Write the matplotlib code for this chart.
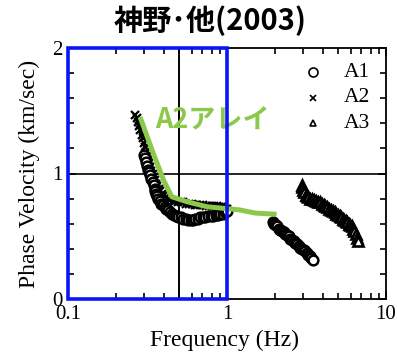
import matplotlib
matplotlib.use("Agg")
import matplotlib.pyplot as plt
from matplotlib.ticker import FixedLocator, NullFormatter, FixedFormatter
from matplotlib.patches import Rectangle

# Dispersion curves (frequency in Hz, phase velocity in km/s)
a1_freq = [0.300, 0.305, 0.310, 0.315, 0.320, 0.325, 0.330, 0.335, 0.340,
           0.345, 0.350, 0.355, 0.360, 0.365, 0.370, 0.378, 0.386, 0.395,
           0.405, 0.415, 0.425, 0.437, 0.450, 0.465, 0.480, 0.495, 0.510,
           0.530, 0.550, 0.570, 0.590, 0.610, 0.630, 0.655, 0.680, 0.705,
           0.730, 0.760, 0.790, 0.820, 0.850, 0.880, 0.910, 0.940, 0.970, 1.000,
           1.94, 1.98, 2.02, 2.07, 2.12, 2.17, 2.22, 2.27, 2.32, 2.38, 2.44,
           2.50, 2.56, 2.62, 2.68, 2.75, 2.82, 2.89, 2.96, 3.03, 3.10, 3.17,
           3.24, 3.31, 3.38, 3.47]
a1_vel = [1.15, 1.12, 1.09, 1.06, 1.03, 1.01, 0.99, 0.96, 0.93, 0.91, 0.88,
          0.86, 0.84, 0.82, 0.80, 0.78, 0.76, 0.75, 0.73, 0.72, 0.71, 0.69,
          0.68, 0.67, 0.66, 0.65, 0.65, 0.64, 0.64, 0.63, 0.63, 0.63, 0.64,
          0.64, 0.65, 0.65, 0.65, 0.66, 0.66, 0.66, 0.67, 0.67, 0.68, 0.68,
          0.69, 0.70,
          0.61, 0.60, 0.59, 0.58, 0.56, 0.55, 0.54, 0.53, 0.52, 0.51, 0.50,
          0.48, 0.47, 0.46, 0.45, 0.44, 0.42, 0.41, 0.40, 0.39, 0.38, 0.37,
          0.35, 0.34, 0.33, 0.31]

a2_freq = [0.265, 0.270, 0.275, 0.280, 0.285, 0.290, 0.295, 0.300, 0.305,
           0.310, 0.315, 0.320, 0.325, 0.330, 0.335, 0.340, 0.345, 0.350,
           0.357, 0.364, 0.372, 0.380, 0.390, 0.400, 0.412, 0.425, 0.440,
           0.455, 0.470, 0.490, 0.510, 0.530, 0.550, 0.575, 0.600, 0.625,
           0.650, 0.680, 0.710, 0.740, 0.770, 0.800, 0.830, 0.860, 0.890,
           0.920, 0.950, 0.980, 1.000]
a2_vel = [1.47, 1.44, 1.41, 1.38, 1.35, 1.31, 1.28, 1.24, 1.21, 1.17, 1.14,
          1.11, 1.08, 1.05, 1.02, 1.00, 0.97, 0.95, 0.92, 0.90, 0.88, 0.86,
          0.84, 0.83, 0.81, 0.80, 0.79, 0.78, 0.78, 0.77, 0.77, 0.77, 0.76,
          0.76, 0.76, 0.75, 0.75, 0.75, 0.75, 0.74, 0.74, 0.74, 0.74, 0.74,
          0.73, 0.73, 0.73, 0.72, 0.72]

a3_freq = [2.95, 2.98, 3.02, 3.07, 3.12, 3.18, 3.25, 3.33, 3.42, 3.52, 3.62,
           3.72, 3.83, 3.94, 4.05, 4.16, 4.28, 4.40, 4.52, 4.64, 4.76, 4.88,
           5.00, 5.12, 5.24, 5.36, 5.48, 5.60, 5.72, 5.84, 5.96, 6.08, 6.20,
           6.32, 6.44, 6.56, 6.67]
a3_vel = [0.91, 0.89, 0.87, 0.85, 0.83, 0.82, 0.81, 0.80, 0.80, 0.79, 0.78,
          0.77, 0.77, 0.76, 0.75, 0.74, 0.73, 0.72, 0.71, 0.70, 0.69, 0.68,
          0.67, 0.66, 0.65, 0.64, 0.63, 0.62, 0.61, 0.60, 0.59, 0.58, 0.56,
          0.54, 0.52, 0.49, 0.46]

# Picked A2-array curve
pick_freq = [0.284, 0.344, 0.398, 0.449, 0.56, 0.75, 1.00, 1.20, 1.50, 2.05]
pick_vel = [1.45, 1.16, 0.95, 0.815, 0.775, 0.735, 0.72, 0.71, 0.685, 0.675]

series_labels = ["A1", "A2", "A3"]
x_tick_values = [0.1, 1, 10]
x_tick_labels = ["0.1", "1", "10"]
y_tick_values = [0, 1, 2]
y_tick_labels = ["0", "1", "2"]

serif = ["Liberation Serif", "DejaVu Serif"]
cjk = ["Noto Sans CJK JP", "DejaVu Sans"]
green = "#8cc84b"

fig = plt.figure(figsize=(3.97, 3.56), dpi=100)
ax = fig.add_axes([68 / 397, 1 - 299 / 356, 318 / 397, 251 / 356])
ax.set_xscale("log")
ax.set_xlim(0.1, 10)
ax.set_ylim(0, 2)

# Reference lines
ax.axvline(0.5, color="black", lw=1.4, zorder=1)
ax.axhline(1.0, color="black", lw=1.2, zorder=1)

# Observed curves
ax.plot(a2_freq, a2_vel, ls="none", marker="x", ms=6, mew=1.6, color="black", zorder=3)
ax.plot(a1_freq, a1_vel, ls="none", marker="o", ms=7, mew=1.8,
        mfc="white", mec="black", zorder=4)
ax.plot(a3_freq, a3_vel, ls="none", marker="^", ms=7, mew=1.9,
        mfc="white", mec="black", zorder=4)

# Picked curve
ax.plot(pick_freq, pick_vel, color=green, lw=3.6, solid_capstyle="butt",
        solid_joinstyle="round", zorder=5)
ax.text(0.352, 1.36, "A2アレイ", color=green, fontsize=19.5, fontweight="bold",
        family=cjk, ha="left", va="baseline", zorder=6)

# Highlighted band
ax.add_patch(Rectangle((0.1, 0), 0.9, 2, fill=False, edgecolor="#0a14f5", lw=2.6,
                       zorder=7, clip_on=False))

# Legend
leg_y = [0.904, 0.801, 0.701]
leg_markers = [dict(marker="o", mfc="white", mec="black", ms=6.5, mew=1.2),
               dict(marker="x", color="black", ms=5, mew=1.2),
               dict(marker="^", mfc="white", mec="black", ms=5, mew=1.2)]
for y, lab, mk in zip(leg_y, series_labels, leg_markers):
    ax.plot([0.770], [y], transform=ax.transAxes, ls="none", **mk)
    ax.text(0.868, y, lab, transform=ax.transAxes, family=serif, fontsize=15.5,
            ha="left", va="center")

# Axes styling
for sp in ax.spines.values():
    sp.set_linewidth(1.3)
    sp.set_color("black")
ax.xaxis.set_major_locator(FixedLocator(x_tick_values))
ax.xaxis.set_major_formatter(FixedFormatter(x_tick_labels))
ax.xaxis.set_minor_locator(FixedLocator([k * 10.0 ** e for e in (-1, 0) for k in range(2, 10)]))
ax.xaxis.set_minor_formatter(NullFormatter())
ax.yaxis.set_major_locator(FixedLocator(y_tick_values))
ax.yaxis.set_major_formatter(FixedFormatter(y_tick_labels))
ax.yaxis.set_minor_locator(FixedLocator([0.2, 0.4, 0.6, 0.8, 1.2, 1.4, 1.6, 1.8]))
ax.tick_params(which="both", direction="in", top=True, right=True, width=1.2, color="black")
ax.tick_params(which="major", length=6)
ax.tick_params(which="minor", length=4)
ax.tick_params(axis="x", which="major", pad=4)
ax.tick_params(axis="y", which="major", pad=4)
for lbl in ax.get_xticklabels() + ax.get_yticklabels():
    lbl.set_family(serif)
    lbl.set_fontsize(15)

ax.set_xlabel("Frequency (Hz)", family=serif, fontsize=17)
ax.set_ylabel("Phase Velocity (km/sec)", family=serif, fontsize=17)
ax.xaxis.set_label_coords((225 - 68) / 318, -(340 - 299) / 251)
ax.yaxis.set_label_coords((29 - 68) / 318, 0.5)
ax.xaxis.label.set_va("center")
ax.yaxis.label.set_va("center")

fig.text(210 / 397, 1 - 21 / 356, "神野･他(2003)", family=cjk, fontsize=21,
         fontweight="bold", ha="center", va="center")

fig.savefig("out.png", dpi=100)
